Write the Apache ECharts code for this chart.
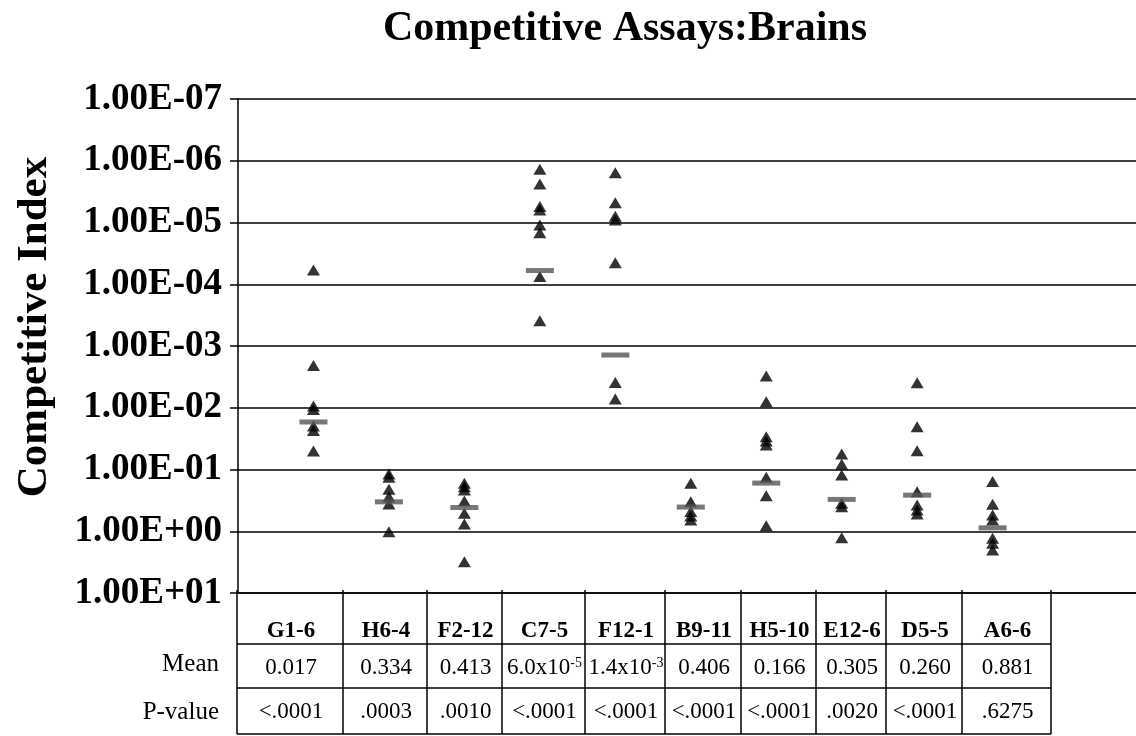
<!DOCTYPE html>
<html><head><meta charset="utf-8">
<script src="https://cdn.jsdelivr.net/npm/echarts@6/dist/echarts.min.js"></script>
<style>html,body{margin:0;padding:0;background:#fff}#c{width:1136px;height:736px}</style>
</head><body><div id="c"></div>
<script>
// ---- data ----
const categories = ['G1-6','H6-4','F2-12','C7-5','F12-1','B9-11','H5-10','E12-6','D5-5','A6-6'];
const valsG1_6  = [5.9e-5, 2.07e-3, 9.4e-3, 1.07e-2, 1.98e-2, 2.33e-2, 5.0e-2];
const valsH6_4  = [0.118, 0.134, 0.209, 0.275, 0.362, 1.02];
const valsF2_12 = [0.167, 0.19, 0.215, 0.324, 0.512, 0.762, 3.11];
const valsC7_5  = [1.37e-6, 2.38e-6, 5.5e-6, 6.3e-6, 1.1e-5, 1.46e-5, 7.5e-5, 3.9e-4];
const valsF12_1 = [1.56e-6, 4.8e-6, 7.9e-6, 9.1e-6, 4.5e-5, 3.9e-3, 7.2e-3];
const valsB9_11 = [0.167, 0.332, 0.48, 0.566, 0.658];
const valsH5_10 = [3.06e-3, 7.98e-3, 0.0294, 0.0345, 0.040, 0.134, 0.266, 0.813];
const valsE12_6 = [0.056, 0.082, 0.123, 0.353, 0.40, 1.27];
const valsD5_5  = [3.93e-3, 0.0203, 0.0495, 0.229, 0.376, 0.453, 0.526];
const valsA6_6  = [0.157, 0.366, 0.545, 0.658, 1.30, 1.57, 2.01];
const groupValues = [valsG1_6, valsH6_4, valsF2_12, valsC7_5, valsF12_1, valsB9_11, valsH5_10, valsE12_6, valsD5_5, valsA6_6];
const meanValues = [0.017, 0.334, 0.413, 6.0e-5, 1.4e-3, 0.406, 0.166, 0.305, 0.260, 0.881];
const meanLabels = ['0.017','0.334','0.413','6.0x10{sup|-5}','1.4x10{sup|-3}','0.406','0.166','0.305','0.260','0.881'];
const pValues = ['<.0001','.0003','.0010','<.0001','<.0001','<.0001','<.0001','.0020','<.0001','.6275'];
const yTickLabels = ['1.00E-07','1.00E-06','1.00E-05','1.00E-04','1.00E-03','1.00E-02','1.00E-01','1.00E+00','1.00E+01'];
const rowLabels = ['Mean','P-value'];

// ---- layout ----
const SERIF = '"Liberation Serif","DejaVu Serif",serif';
const colEdges = [237, 343, 427, 502, 585, 665, 741, 816, 886, 962, 1051];
const rowEdges = [593, 644, 688, 734];

const triData = [];
groupValues.forEach((arr, i) => arr.forEach(v => triData.push([i + 1, v])));
const meanData = meanValues.map((v, i) => [i + 1, v]);

const graphics = [];
const lineStyle = { stroke: '#000', lineWidth: 1.5 };
for (let r = 1; r < rowEdges.length; r++) {
  graphics.push({ type: 'line', shape: { x1: colEdges[0], y1: rowEdges[r], x2: colEdges[colEdges.length - 1], y2: rowEdges[r] }, style: lineStyle });
}
colEdges.forEach(x => graphics.push({ type: 'line', shape: { x1: x, y1: rowEdges[0] - 3, x2: x, y2: rowEdges[3] }, style: lineStyle }));
categories.forEach((c, i) => {
  const cx = (colEdges[i] + colEdges[i + 1]) / 2 + 1;
  graphics.push({ type: 'text', x: cx, y: 631, style: { text: c, font: 'bold 23px ' + SERIF, fill: '#000', align: 'center', verticalAlign: 'middle' } });
  graphics.push({ type: 'text', x: cx, y: 668, style: { text: meanLabels[i], font: '23px ' + SERIF, fill: '#000', align: 'center', verticalAlign: 'middle',
    rich: { sup: { font: '14px ' + SERIF, fill: '#000', verticalAlign: 'top', padding: [0, 0, 10, 0] } } } });
  graphics.push({ type: 'text', x: cx, y: 712, style: { text: pValues[i], font: '23px ' + SERIF, fill: '#000', align: 'center', verticalAlign: 'middle' } });
});
graphics.push({ type: 'text', x: 219, y: 664, style: { text: rowLabels[0], font: '25px ' + SERIF, fill: '#000', align: 'right', verticalAlign: 'middle' } });
graphics.push({ type: 'text', x: 219, y: 712, style: { text: rowLabels[1], font: '25px ' + SERIF, fill: '#000', align: 'right', verticalAlign: 'middle' } });

const chart = echarts.init(document.getElementById('c'), null, { renderer: 'canvas' });
chart.setOption({
  backgroundColor: '#fff',
  animation: false,
  title: { text: 'Competitive Assays:Brains', left: 620, top: 3, textAlign: 'center',
    textStyle: { fontFamily: SERIF, fontWeight: 'bold', fontSize: 42, color: '#000' } },
  grid: { left: 238, right: 0, top: 99, bottom: 143 },
  xAxis: { type: 'value', min: 0, max: 11.9, axisLabel: { show: false }, axisTick: { show: false },
    splitLine: { show: false }, axisLine: { show: true, lineStyle: { color: '#000', width: 1.5 } } },
  yAxis: { type: 'log', logBase: 10, min: 1e-7, max: 10, inverse: true,
    name: 'Competitive Index', nameLocation: 'middle', nameRotate: 90, nameGap: 182,
    nameTextStyle: { fontFamily: SERIF, fontWeight: 'bold', fontSize: 43, color: '#000', padding: [0, 0, 0, 38] },
    axisLine: { show: true, lineStyle: { color: '#000', width: 1.5 } },
    axisTick: { show: true, length: 8, lineStyle: { color: '#000', width: 1.5 } },
    splitLine: { show: true, lineStyle: { color: '#000', width: 1.5 } },
    axisLabel: { margin: 16, fontFamily: SERIF, fontWeight: 'bold', fontSize: 37, color: '#000',
      formatter: v => { const e = Math.round(Math.log10(v)); return yTickLabels[e + 7]; } } },
  series: [
    { type: 'scatter', data: triData, symbol: 'triangle', symbolSize: [13, 11], itemStyle: { color: '#000' }, z: 3 },
    { type: 'scatter', data: meanData, symbol: 'rect', symbolSize: [28, 5], itemStyle: { color: '#555555' }, z: 4 }
  ],
  graphic: graphics
});
</script></body></html>
